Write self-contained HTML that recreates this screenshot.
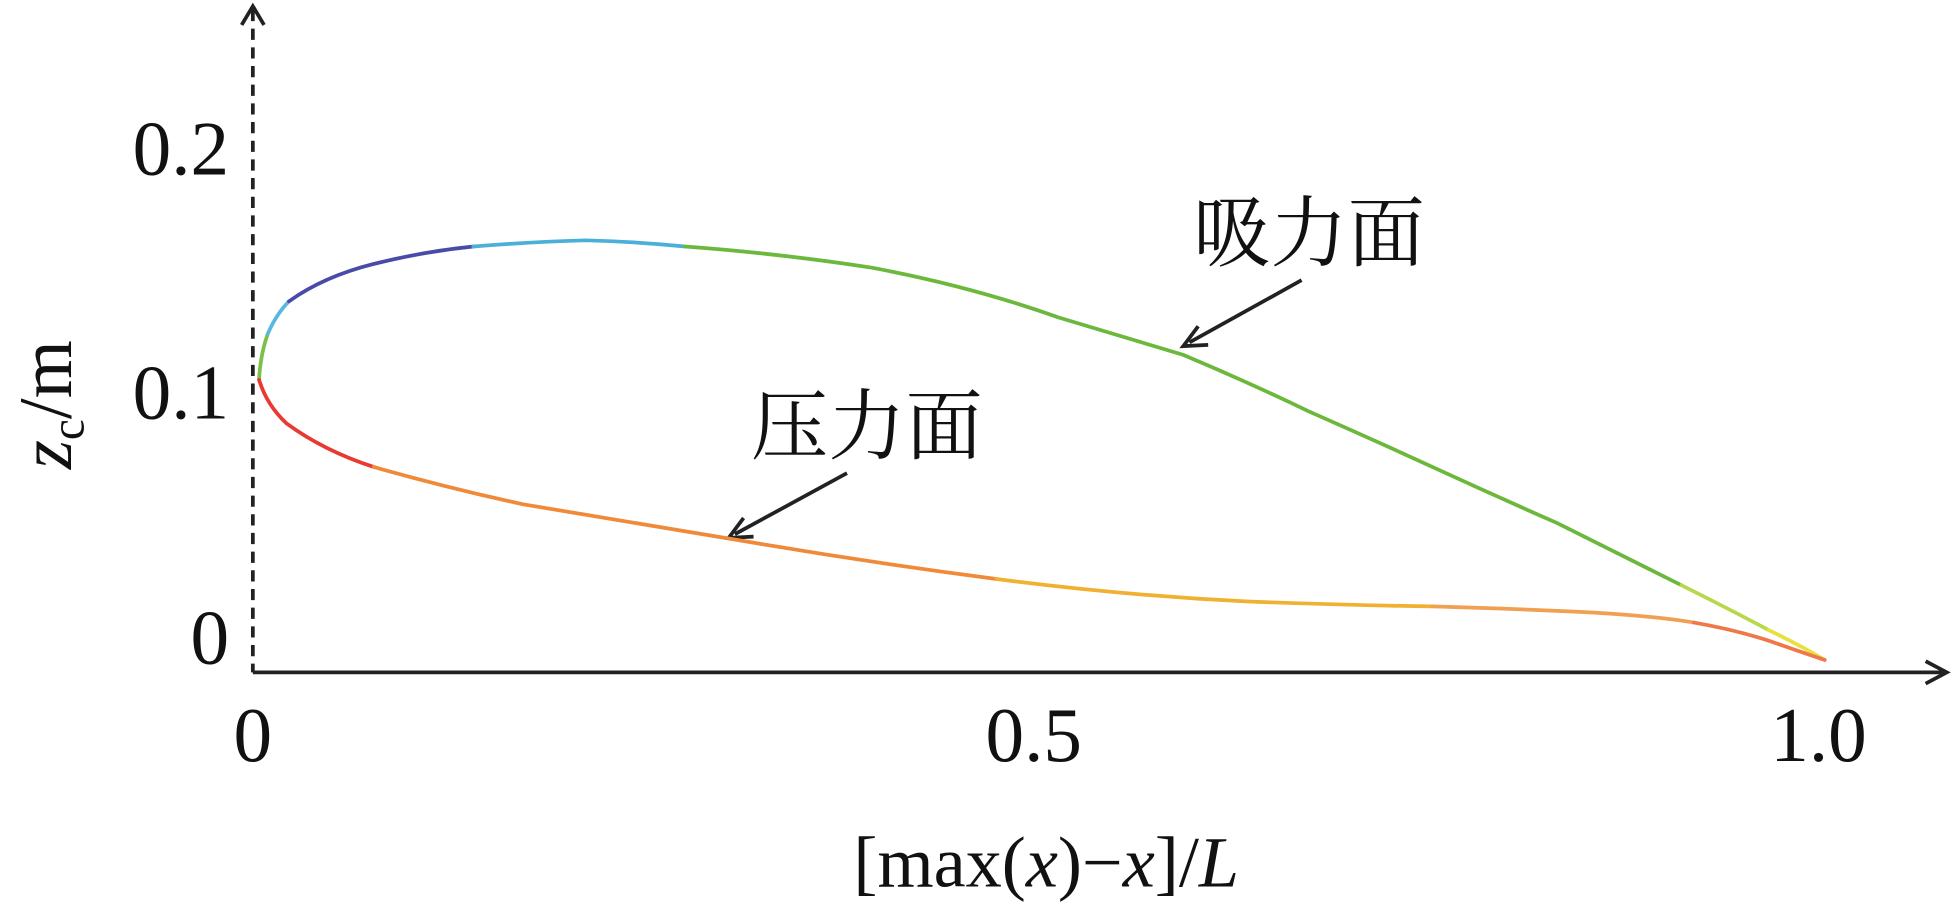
<!DOCTYPE html>
<html><head><meta charset="utf-8"><style>
html,body{margin:0;padding:0;background:#fff;overflow:hidden;}
svg{display:block;}
text{font-family:"Liberation Serif","Noto Serif CJK SC",serif;fill:#111;}
</style></head><body>
<svg width="1953" height="904" viewBox="0 0 1568 726" preserveAspectRatio="none" xmlns="http://www.w3.org/2000/svg">
<!-- axes -->
<line x1="203" y1="8" x2="203" y2="540" stroke="#222" stroke-width="3" stroke-dasharray="9,6"/>
<polyline points="194,20 203,5 212,20" fill="none" stroke="#222" stroke-width="3"/>
<line x1="203" y1="540" x2="1562" y2="540" stroke="#222" stroke-width="3"/>
<polyline points="1546,531 1563,540 1546,549" fill="none" stroke="#222" stroke-width="3"/>
<!-- tick labels -->
<g font-size="62">
<text x="203" y="611" text-anchor="middle">0</text>
<text x="830" y="611" text-anchor="middle">0.5</text>
<text x="1460" y="611" text-anchor="middle">1.0</text>
<text x="184" y="140" text-anchor="end">0.2</text>
<text x="184" y="336" text-anchor="end">0.1</text>
<text x="184" y="533" text-anchor="end">0</text>
</g>
<text x="840" y="712" font-size="58" text-anchor="middle">[max(<tspan font-style="italic">x</tspan>)−<tspan font-style="italic">x</tspan>]/<tspan font-style="italic">L</tspan></text>
<text transform="translate(57,325) rotate(-90)" font-size="60" text-anchor="middle"><tspan font-style="italic">z</tspan><tspan font-size="38" dy="10">c</tspan><tspan dy="-10">/m</tspan></text>
<!-- annotations -->
<text x="958" y="209" font-size="62">吸力面</text>
<text x="603" y="364" font-size="62">压力面</text>
<line x1="1045" y1="225" x2="955" y2="275" stroke="#222" stroke-width="3"/>
<polyline points="962,262 950,278 970,277" fill="none" stroke="#222" stroke-width="3"/>
<line x1="680" y1="380" x2="590" y2="429" stroke="#222" stroke-width="3"/>
<polyline points="597,416 585,432 605,431" fill="none" stroke="#222" stroke-width="3"/>
<!-- airfoil upper -->
<g fill="none" stroke-width="3" stroke-linecap="round">
<path d="M208,305 Q209,285 215,268" stroke="#7cc04a"/>
<path d="M215,268 Q222,252 232,242" stroke="#5ab8e0"/>
<path d="M232,242 Q260,222 300,212 Q340,202 380,198" stroke="#4a4aa8"/>
<path d="M380,198 Q430,194 470,193 Q510,194 550,198" stroke="#4ab0d8"/>
<path d="M550,198 Q630,204 700,215 Q780,230 850,255 Q900,270 950,285 Q1000,306 1050,330 Q1100,352 1150,375 Q1200,398 1250,420 Q1300,445 1350,470" stroke="#6cb83c"/>
<path d="M1350,470 Q1390,490 1420,506" stroke="#b8d84a"/>
<path d="M1420,506 Q1445,518 1465,530" stroke="#e8e040"/>
<!-- lower -->
<path d="M208,305 Q214,325 230,340 Q260,362 300,375" stroke="#e83a30"/>
<path d="M300,375 Q360,392 420,405 Q510,420 600,435 Q700,452 800,465" stroke="#f08a38"/>
<path d="M800,465 Q900,478 1000,483 Q1080,486 1150,487" stroke="#f0b030"/>
<path d="M1150,487 Q1220,489 1280,492 Q1330,495 1360,500" stroke="#f0a050"/>
<path d="M1360,500 Q1400,507 1430,518 Q1450,525 1465,530" stroke="#f07848"/>
</g>
</svg>
</body></html>
